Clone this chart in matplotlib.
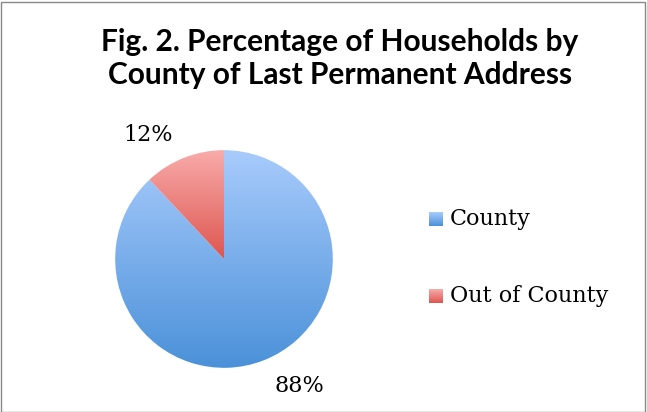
import numpy as np
import matplotlib
matplotlib.use("Agg")
import matplotlib.pyplot as plt
from matplotlib.colors import LinearSegmentedColormap
from matplotlib.patches import Rectangle

labels = ["County", "Out of County"]
shares = [88, 12]
pct_text = ["88%", "12%"]
# colour at top and bottom of each wedge's gradient
grad_top = ["#a8cbfc", "#f8abaa"]
grad_bot = ["#4b91d9", "#de5650"]

W, H = 647, 412
fig = plt.figure(figsize=(W / 100, H / 100), dpi=100)
fig.patches.append(Rectangle((0.5 / W, 0.5 / H), 1 - 2.5 / W, 1 - 2.5 / H,
                             transform=fig.transFigure, fill=False,
                             edgecolor="#888888", lw=1))

for txt, y in zip(["Fig. 2. Percentage of Households by",
                   "County of Last Permanent Address"], [42, 75]):
    fig.text(340 / W, 1 - y / H, txt, ha="center", va="center",
             fontsize=21.5, fontweight="bold", family="Lato", color="black")

r = 111
ax = fig.add_axes([(224 - r) / W, (412 - 259 - r) / H, 2 * r / W, 2 * r / H])
wedges, _ = ax.pie(shares, startangle=90, counterclock=False, radius=1,
                   wedgeprops=dict(linewidth=0, edgecolor="none"))
ax.set_xlim(-1.02, 1.02)
ax.set_ylim(-1.02, 1.02)
ax.axis("off")

# vertical gradients clipped to each wedge
for w, ct, cb in zip(wedges, grad_top, grad_bot):
    cmap = LinearSegmentedColormap.from_list("g", [cb, ct])
    if w.theta2 - w.theta1 > 180:
        y0, y1 = -1, 1
    else:
        y0, y1 = 0, 1
    w.set_facecolor("none")
    grad = np.linspace(0, 1, 256).reshape(-1, 1)
    im = ax.imshow(grad, cmap=cmap, origin="lower", aspect="auto",
                   extent=[-1, 1, y0, y1], zorder=1)
    im.set_clip_path(w)

# percentage labels, placed outside like Excel's best fit
label_pos = {"88%": (0.69, -1.17), "12%": (-0.70, 1.14)}
for t in pct_text:
    ax.text(*label_pos[t], t, ha="center", va="center", fontsize=16,
            family="DejaVu Serif", color="black")

# legend with small gradient squares
leg_y = [219, 296]
for lab, ct, cb, y in zip(labels, grad_top, grad_bot, leg_y):
    kax = fig.add_axes([429 / W, 1 - (y + 7) / H, 14 / W, 14 / H])
    kax.imshow(np.linspace(0, 1, 32).reshape(-1, 1), origin="lower",
               aspect="auto", cmap=LinearSegmentedColormap.from_list("k", [cb, ct]))
    kax.axis("off")
    fig.text(450 / W, 1 - y / H, lab, ha="left", va="center", fontsize=16,
             family="DejaVu Serif", color="black")

fig.savefig("out.png", dpi=100)
